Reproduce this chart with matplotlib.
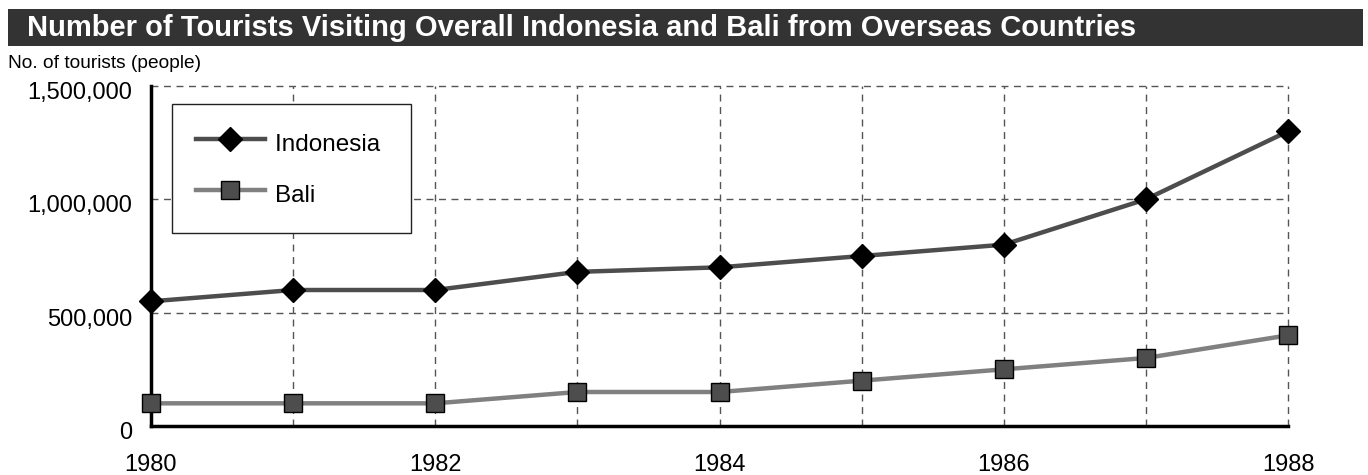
import matplotlib.pyplot as plt
import matplotlib.transforms as mtransforms
from matplotlib.patches import Rectangle
from matplotlib.ticker import FuncFormatter

# data
years = [1980, 1981, 1982, 1983, 1984, 1985, 1986, 1987, 1988]
indonesia = [550000, 600000, 600000, 680000, 700000, 750000, 800000, 1000000, 1300000]
bali = [100000, 100000, 100000, 150000, 150000, 200000, 250000, 300000, 400000]
y_ticks = [0, 500000, 1000000, 1500000]
x_ticks = [1980, 1982, 1984, 1986, 1988]

plt.rcParams["font.family"] = ["Liberation Sans", "DejaVu Sans"]

W, H = 1368, 475
fig = plt.figure(figsize=(W / 100, H / 100), dpi=100)

# title bar
fig.patches.append(Rectangle((8 / W, 1 - 46 / H), (1363 - 8) / W, 37 / H,
                             transform=fig.transFigure, facecolor="#333333",
                             edgecolor="none", zorder=0))
fig.text(27 / W, 1 - 27.5 / H,
         "Number of Tourists Visiting Overall Indonesia and Bali from Overseas Countries",
         color="white", fontsize=21, fontweight="bold", va="center", ha="left")
fig.text(8 / W, 1 - 63 / H, "No. of tourists (people)", fontsize=13.8,
         va="center", ha="left")

ax = fig.add_axes([151 / W, 1 - 426 / H, (1288 - 151) / W, 340 / H])

# trailing space widens the legend box like in the reference
ax.plot(years, indonesia, color="#4d4d4d", lw=3.2, marker="D", ms=12,
        mfc="black", mec="black", label="Indonesia ", zorder=4, clip_on=False)
ax.plot(years, bali, color="#808080", lw=3.2, marker="s", ms=12.5,
        mfc="#4d4d4d", mec="black", mew=1, label="Bali", zorder=3, clip_on=False)

ax.set_xlim(1980, 1988)
ax.set_ylim(0, 1500000)
ax.set_xticks(years)
ax.set_xticklabels([str(y) if y in x_ticks else "" for y in years])
ax.set_yticks(y_ticks)
ax.yaxis.set_major_formatter(FuncFormatter(lambda v, p: f"{int(v):,}"))

ax.grid(True, color="#555555", lw=1, ls=(0, (5, 4)))
ax.set_axisbelow(True)
for gl in ax.get_xgridlines() + ax.get_ygridlines():
    gl.set_clip_on(False)
for side in ["top", "right"]:
    ax.spines[side].set_visible(False)
for side in ["left", "bottom"]:
    ax.spines[side].set_linewidth(2.5)
    ax.spines[side].set_color("black")

ax.tick_params(axis="both", length=0, labelsize=17)
ax.tick_params(axis="x", pad=20)
ax.tick_params(axis="y", pad=13.5)
offset = mtransforms.ScaledTranslation(0, -4.5 / 100, fig.dpi_scale_trans)
for lab in ax.get_yticklabels():
    lab.set_transform(lab.get_transform() + offset)

leg = ax.legend(loc="upper left", bbox_to_anchor=((172 - 151) / 1137, (426 - 104) / 340),
                borderaxespad=0, fontsize=17.5, handlelength=2.85, handleheight=1.6,
                handletextpad=0.42, labelspacing=0.8, borderpad=0.97,
                fancybox=False, framealpha=1)
leg.get_frame().set_edgecolor("#222222")
leg.get_frame().set_linewidth(1)

fig.savefig("out.png", dpi=100)
